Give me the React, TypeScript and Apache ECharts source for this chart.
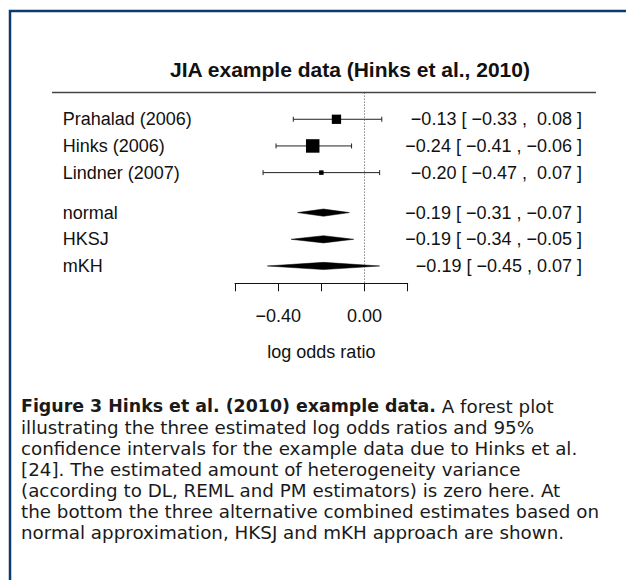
import React, { useEffect, useRef } from "react";
import * as echarts from "echarts";

const studyNames = ["Prahalad (2006)", "Hinks (2006)", "Lindner (2007)"];
const studyEst = [-0.13, -0.24, -0.2];
const studyLo = [-0.33, -0.41, -0.47];
const studyHi = [0.08, -0.06, 0.07];

const methodNames = ["normal", "HKSJ", "mKH"];
const methodEst = [-0.19, -0.19, -0.19];
const methodLo = [-0.31, -0.34, -0.45];
const methodHi = [-0.07, -0.05, 0.07];
const methodPad = [true, true, false];

const studyRows = [0, 1, 2];
const methodRows = [3.5, 4.5, 5.5];

const xTickLabels = ["", "\u22120.40", "", "0.00", ""];

const titleText = "JIA example data (Hinks et al., 2010)";
const axisTitle = "log odds ratio";

const captionBold = "Figure 3 Hinks et al. (2010) example data.";
const captionLines = [
  " A forest plot",
  "illustrating the three estimated log odds ratios and 95%",
  "confidence intervals for the example data due to Hinks et al.",
  "[24]. The estimated amount of heterogeneity variance",
  "(according to DL, REML and PM estimators) is zero here. At",
  "the bottom the three alternative combined estimates based on",
  "normal approximation, HKSJ and mKH approach are shown.",
];

const FONT = "Liberation Sans, Arial, sans-serif";
const CAP_FONT = "DejaVu Sans, sans-serif";
const CAP_SIZE = 18.3;
const CAP_BOLD_SIZE = 17.4;

function fmt(v: number, pad: boolean) {
  if (v < 0) return "\u2212" + Math.abs(v).toFixed(2);
  return (pad ? "\u00a0" : "") + v.toFixed(2);
}

export default function App() {
  const ref = useRef<HTMLDivElement>(null);
  useEffect(() => {
    if (!ref.current) return;
    const chart = echarts.init(ref.current, undefined, { renderer: "svg" });

    const weights = studyLo.map((lo, i) => {
      const se = (studyHi[i] - lo) / 3.92;
      return 1 / (se * se);
    });
    const wMin = Math.min(...weights);
    const wMax = Math.max(...weights);

    const data: any[] = [];
    studyNames.forEach((n, i) => {
      const sf = 0.5 + (weights[i] - wMin) / (wMax - wMin);
      data.push({
        value: [studyEst[i], studyLo[i], studyHi[i], studyRows[i], 0, sf],
        name: n,
        right: `${fmt(studyEst[i], true)} [ ${fmt(studyLo[i], true)} , ${fmt(studyHi[i], true)} ]`,
      });
    });
    methodNames.forEach((n, i) => {
      const p = methodPad[i];
      data.push({
        value: [methodEst[i], methodLo[i], methodHi[i], methodRows[i], 1, 1],
        name: n,
        right: `${fmt(methodEst[i], p)} [ ${fmt(methodLo[i], p)} , ${fmt(methodHi[i], p)} ]`,
      });
    });

    const ink = "#111";

    const option: any = {
      animation: false,
      backgroundColor: "#fff",
      title: {
        text: titleText,
        left: 345,
        top: 54,
        textAlign: "center",
        textStyle: { fontFamily: FONT, fontSize: 21, fontWeight: "bold", color: ink },
      },
      grid: { left: 235, right: 218.3, top: 92.6, bottom: 296.7 },
      xAxis: {
        type: "value",
        min: -0.6,
        max: 0.2,
        interval: 0.2,
        axisLine: { show: true, onZero: false, lineStyle: { color: ink, width: 1 } },
        axisTick: { show: true, length: 8, lineStyle: { color: ink, width: 1 } },
        splitLine: { show: false },
        axisLabel: {
          show: true,
          showMinLabel: true,
          showMaxLabel: true,
          margin: 24,
          fontFamily: FONT,
          fontSize: 18,
          color: ink,
          formatter: (_v: number, idx: number) => xTickLabels[idx] ?? "",
        },
        name: axisTitle,
        nameLocation: "middle",
        nameGap: 60,
        nameTextStyle: { fontFamily: FONT, fontSize: 18, color: ink },
      },
      yAxis: {
        type: "value",
        inverse: true,
        min: -1,
        max: 6.15,
        show: false,
      },
      series: [
        {
          type: "line",
          data: [
            [0, -1],
            [0, 6.15],
          ],
          symbol: "none",
          lineStyle: { color: "#444", width: 1, type: [1, 2] },
          silent: true,
        },
        {
          type: "custom",
          clip: false,
          data,
          encode: { x: [0, 1, 2], y: 3 },
          renderItem: (params: any, api: any) => {
            const est = api.value(0);
            const lo = api.value(1);
            const hi = api.value(2);
            const pos = api.value(3);
            const kind = api.value(4);
            const sf = api.value(5);
            const pE = api.coord([est, pos]);
            const pL = api.coord([lo, pos]);
            const pH = api.coord([hi, pos]);
            const item = data[params.dataIndex];
            const y = pE[1];
            const children: any[] = [];
            if (kind === 0) {
              children.push({
                type: "line",
                shape: { x1: pL[0], y1: y, x2: pH[0], y2: y },
                style: { stroke: "#222", lineWidth: 1 },
              });
              children.push({
                type: "line",
                shape: { x1: pL[0], y1: y - 2.5, x2: pL[0], y2: y + 2.5 },
                style: { stroke: "#222", lineWidth: 1 },
              });
              children.push({
                type: "line",
                shape: { x1: pH[0], y1: y - 2.5, x2: pH[0], y2: y + 2.5 },
                style: { stroke: "#222", lineWidth: 1 },
              });
              const s = 9 * sf;
              children.push({
                type: "rect",
                shape: { x: pE[0] - s / 2, y: y - s / 2, width: s, height: s },
                style: { fill: "#000" },
              });
            } else {
              const h = 3.6;
              children.push({
                type: "polygon",
                shape: {
                  points: [
                    [pL[0], y],
                    [pE[0], y - h],
                    [pH[0], y],
                    [pE[0], y + h],
                  ],
                },
                style: { fill: "#000", stroke: "#000", lineWidth: 0.5 },
              });
            }
            children.push({
              type: "text",
              x: 62.7,
              y,
              style: {
                text: item.name,
                font: `18px ${FONT}`,
                fill: ink,
                align: "left",
                verticalAlign: "middle",
              },
            });
            children.push({
              type: "text",
              x: 582,
              y,
              style: {
                text: item.right,
                font: `18px ${FONT}`,
                fill: ink,
                align: "right",
                verticalAlign: "middle",
              },
            });
            return { type: "group", children };
          },
        },
      ],
      graphic: [
        {
          type: "polyline",
          shape: {
            points: [
              [10, 580],
              [10, 11],
              [626, 11],
            ],
          },
          style: { stroke: "#0b3a6e", lineWidth: 2.5, fill: "none" },
          silent: true,
        },
        {
          type: "line",
          shape: { x1: 52, y1: 92.5, x2: 596, y2: 92.5 },
          style: { stroke: "#444", lineWidth: 1.3 },
          silent: true,
        },
        ...captionLines.map((t, i) => ({
          type: "text",
          x: 21,
          y: 406 + i * 21,
          style: {
            text: i === 0 ? `{b|${captionBold}}{r|${t}}` : t,
            font: `${CAP_SIZE}px ${CAP_FONT}`,
            fill: "#1a1a1a",
            verticalAlign: "middle",
            rich: {
              b: { fontFamily: CAP_FONT, fontSize: CAP_BOLD_SIZE, fontWeight: "bold", fill: "#1a1a1a" },
              r: { fontFamily: CAP_FONT, fontSize: CAP_SIZE, fill: "#1a1a1a" },
            },
          },
          silent: true,
        })),
      ],
    };
    chart.setOption(option);
    return () => chart.dispose();
  }, []);
  return (
    <div
      ref={ref}
      style={{ position: "absolute", left: 0, top: 0, width: 626, height: 580 }}
    />
  );
}
